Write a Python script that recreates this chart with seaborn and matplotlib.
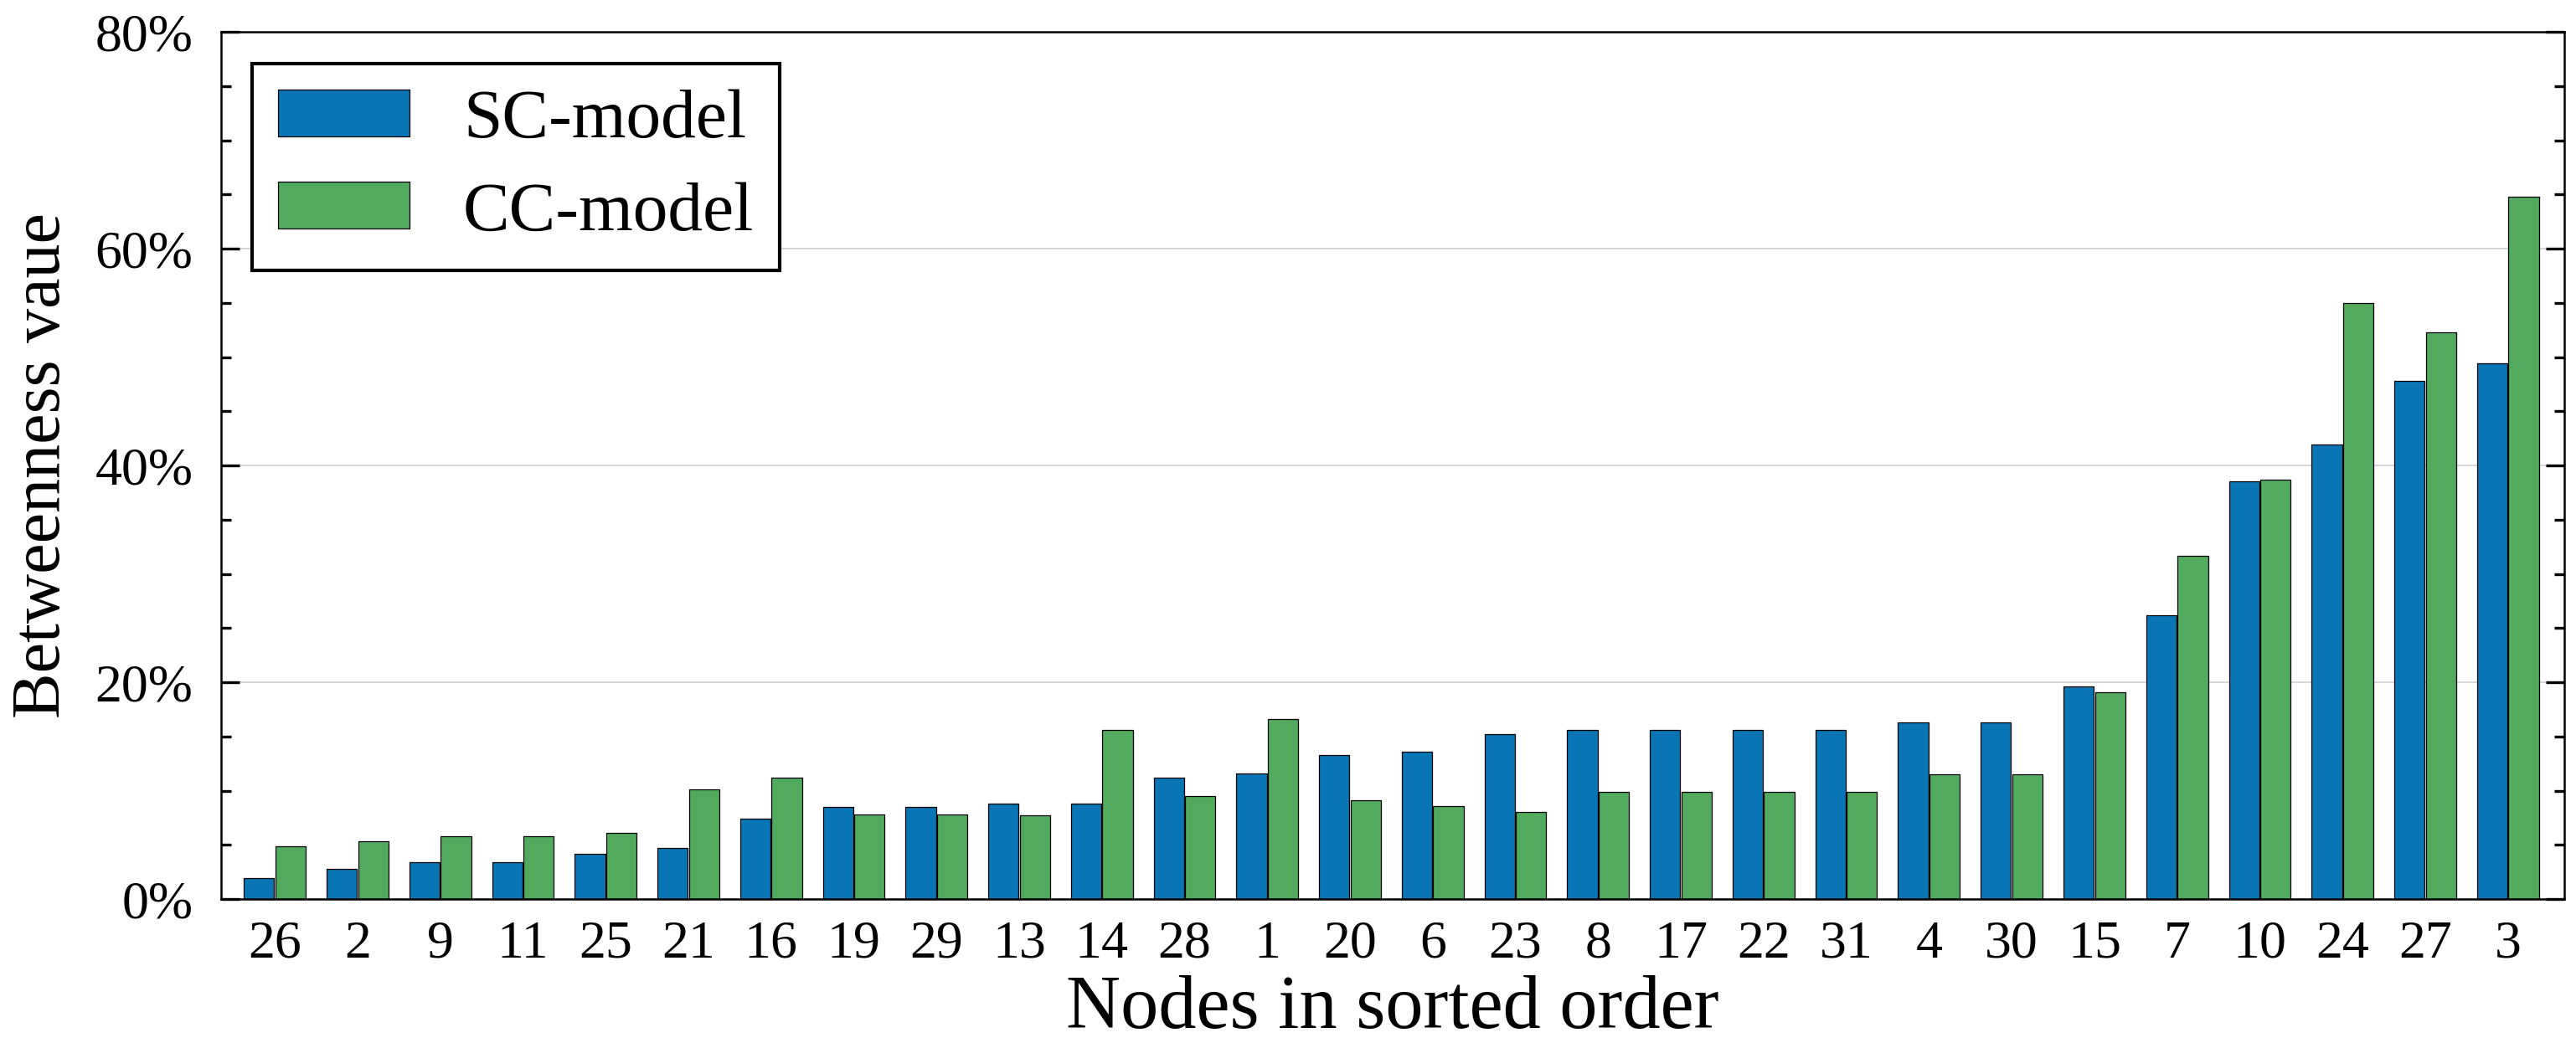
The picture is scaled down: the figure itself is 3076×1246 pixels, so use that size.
import pandas as pd
import numpy as np
import matplotlib
matplotlib.use("Agg")
import matplotlib.pyplot as plt
import seaborn as sns
from matplotlib.ticker import MultipleLocator, PercentFormatter

nodes = ["26", "2", "9", "11", "25", "21", "16", "19", "29", "13", "14", "28", "1", "20",
         "6", "23", "8", "17", "22", "31", "4", "30", "15", "7", "10", "24", "27", "3"]
sc_values = [1.9, 2.8, 3.4, 3.4, 4.2, 4.7, 7.4, 8.5, 8.5, 8.8, 8.8, 11.2, 11.6, 13.3,
             13.6, 15.2, 15.6, 15.6, 15.6, 15.6, 16.3, 16.3, 19.6, 26.2, 38.5, 41.9, 47.8, 49.4]
cc_values = [4.9, 5.3, 5.8, 5.8, 6.1, 10.1, 11.2, 7.8, 7.8, 7.7, 15.6, 9.5, 16.6, 9.1,
             8.6, 8.0, 9.9, 9.9, 9.9, 9.9, 11.5, 11.5, 19.1, 31.7, 38.7, 55.0, 52.3, 64.8]
series = ["SC-model", "CC-model"]
colors = ["#0a75b4", "#52aa5e"]

df = pd.DataFrame({
    "node": nodes * 2,
    "value": sc_values + cc_values,
    "model": [series[0]] * len(nodes) + [series[1]] * len(nodes),
})

sns.set_style("white")
plt.rcParams["font.family"] = ["Liberation Serif", "DejaVu Serif"]
plt.rcParams["text.color"] = "black"
plt.rcParams["axes.labelcolor"] = "black"
plt.rcParams["xtick.color"] = "black"
plt.rcParams["ytick.color"] = "black"

fig = plt.figure(figsize=(30.76, 12.46), dpi=100)
ax = fig.add_axes([0.0858, 0.138, 0.9096, 0.8315])

sns.barplot(data=df, x="node", y="value", hue="model", order=nodes,
            hue_order=series, palette=colors, width=0.76, gap=0.035,
            edgecolor="black", linewidth=0.9, saturation=1, ax=ax)

ax.set_ylim(0, 80)
ax.set_xlim(-0.65, len(nodes) - 0.32)
ax.yaxis.set_major_locator(MultipleLocator(20))
ax.yaxis.set_minor_locator(MultipleLocator(5))
ax.yaxis.set_major_formatter(PercentFormatter(decimals=0))
ax.grid(axis="y", which="major", color="#d3d3d3", linewidth=1.3)
ax.set_axisbelow(True)

ax.tick_params(axis="y", which="both", direction="in", left=True, right=True,
               labelsize=46, width=2.4, pad=24)
ax.tick_params(axis="y", which="major", length=16)
ax.tick_params(axis="y", which="minor", length=8.5)
ax.tick_params(axis="x", which="both", bottom=False, labelsize=46, pad=15)

for s in ax.spines.values():
    s.set_color("black")
    s.set_linewidth(1.8)

ax.set_xlabel("Nodes in sorted order", fontsize=65, labelpad=5)
ax.set_ylabel("Betweenness vaue", fontsize=59, labelpad=18)

leg = ax.legend(loc="upper left", fontsize=60, frameon=True, fancybox=False,
                handlelength=1.88, handleheight=0.66, handletextpad=0.77,
                borderpad=0.37, labelspacing=0.42, borderaxespad=0.45)
leg.get_frame().set_edgecolor("black")
leg.get_frame().set_linewidth(3)
leg.get_frame().set_alpha(1)

fig.savefig("out.png", dpi=100)
